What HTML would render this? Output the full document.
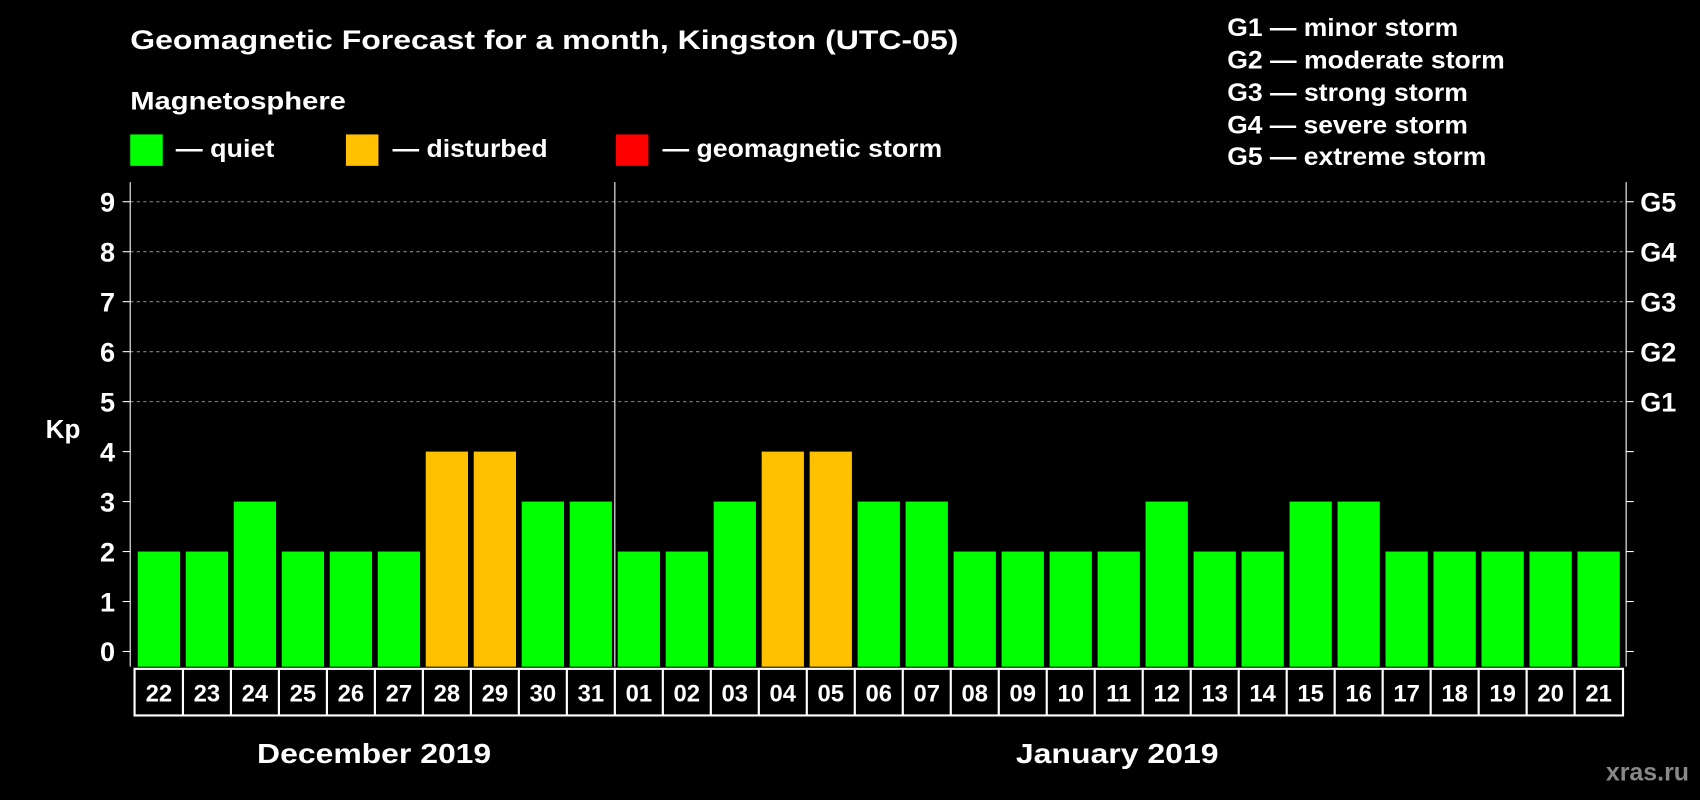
<!DOCTYPE html>
<html><head><meta charset="utf-8"><style>
html,body{margin:0;padding:0;background:#000;width:1700px;height:800px;overflow:hidden}
svg{display:block;font-family:"Liberation Sans",Arial,sans-serif;font-weight:bold}
</style></head><body>
<svg id="chart" width="1700" height="800" viewBox="0 0 1568 738" xmlns="http://www.w3.org/2000/svg">
<rect width="1568" height="738" fill="#000"/>
<text x="120" y="45" fill="#fff" font-size="25" textLength="764" lengthAdjust="spacingAndGlyphs">Geomagnetic Forecast for a month, Kingston (UTC-05)</text>
<text x="120" y="101" fill="#fff" font-size="23" textLength="199" lengthAdjust="spacingAndGlyphs">Magnetosphere</text>
<g><rect x="120" y="124" width="30" height="29" fill="#00ff00"/><text x="162" y="145" fill="#fff" font-size="23" textLength="91" lengthAdjust="spacingAndGlyphs">— quiet</text></g>
<g><rect x="319" y="124" width="30" height="29" fill="#ffc000"/><text x="362" y="145" fill="#fff" font-size="23" textLength="143" lengthAdjust="spacingAndGlyphs">— disturbed</text></g>
<g><rect x="568" y="124" width="30" height="29" fill="#ff0000"/><text x="611" y="145" fill="#fff" font-size="23" textLength="258" lengthAdjust="spacingAndGlyphs">— geomagnetic storm</text></g>
<g fill="#fff" font-size="23">
<text x="1132" y="33" textLength="213" lengthAdjust="spacingAndGlyphs">G1 — minor storm</text>
<text x="1132" y="63" textLength="256" lengthAdjust="spacingAndGlyphs">G2 — moderate storm</text>
<text x="1132" y="93" textLength="222" lengthAdjust="spacingAndGlyphs">G3 — strong storm</text>
<text x="1132" y="123" textLength="222" lengthAdjust="spacingAndGlyphs">G4 — severe storm</text>
<text x="1132" y="152" textLength="239" lengthAdjust="spacingAndGlyphs">G5 — extreme storm</text>
</g>
<text x="58" y="404" fill="#fff" font-size="24" text-anchor="middle">Kp</text>
<g id="grid"></g><g id="bars"></g><g id="axes"></g><g id="dates"></g>
<text x="237" y="704" fill="#fff" font-size="26" textLength="216" lengthAdjust="spacingAndGlyphs">December 2019</text>
<text x="937" y="704" fill="#fff" font-size="26" textLength="187" lengthAdjust="spacingAndGlyphs">January 2019</text>
<text x="1558" y="720" fill="#888" font-size="23" text-anchor="end">xras.ru</text>
</svg>
<script>
const days = ["22","23","24","25","26","27","28","29","30","31","01","02","03","04","05","06","07","08","09","10","11","12","13","14","15","16","17","18","19","20","21"];
const kp = [2,2,3,2,2,2,4,4,3,3,2,2,3,4,4,3,3,2,2,2,2,3,2,2,3,3,2,2,2,2,2];
const yTicks = [0,1,2,3,4,5,6,7,8,9];
const gLabels = ["G1","G2","G3","G4","G5"];
const NS="http://www.w3.org/2000/svg";
const L=120,R=1500,T=168,B=615,x0=146.5,step=44.27,bw=39;
const y=v=>601-v*46.1;
const x=i=>x0+i*step;
function mk(tag,attrs,parent){const e=document.createElementNS(NS,tag);for(const k in attrs)e.setAttribute(k,attrs[k]);document.getElementById(parent).appendChild(e);return e;}
yTicks.forEach(v=>{
  if(v>=5){const g=mk('line',{x1:L,x2:R,y1:y(v),y2:y(v),stroke:'#888','stroke-dasharray':'3,3'},'grid');
    
    }
  mk('line',{x1:L-7,x2:L,y1:y(v),y2:y(v),stroke:'#fff'},'axes');
  mk('line',{x1:R,x2:R+7,y1:y(v),y2:y(v),stroke:'#fff'},'axes');
  const t=mk('text',{x:L-14,y:y(v)+9,fill:'#fff','font-size':25,'text-anchor':'end'},'axes');t.textContent=v;
  
  
});
gLabels.forEach((g,i)=>{const t=mk('text',{x:R+13,y:y(5+i)+9,fill:'#fff','font-size':25},'axes');t.textContent=g;
  
  });
kp.forEach((v,i)=>{
  const r=mk('rect',{x:x(i)-bw/2,y:y(v),width:bw,height:B-y(v),fill:v>=5?'#ff0000':(v>=4?'#ffc000':'#00ff00')},'bars');
  
  
});
mk('line',{x1:L,x2:L,y1:T,y2:B,stroke:'#fff'},'axes');
mk('line',{x1:R,x2:R,y1:T,y2:B,stroke:'#fff'},'axes');
mk('line',{x1:(x(9)+x(10))/2,x2:(x(9)+x(10))/2,y1:T,y2:B,stroke:'#fff'},'axes');
mk('rect',{x:x(0)-22.5,y:617,width:x(days.length-1)-x(0)+45,height:43,fill:'none',stroke:'#fff','stroke-width':2},'dates');
days.forEach((d,i)=>{
  if(i>0)mk('line',{x1:x(i)-step/2,x2:x(i)-step/2,y1:617,y2:660,stroke:'#fff','stroke-width':2},'dates');
  const t=mk('text',{x:x(i),y:647,fill:'#fff','font-size':22,'text-anchor':'middle'},'dates');t.textContent=d;
  
  
});
</script>
</body></html>
